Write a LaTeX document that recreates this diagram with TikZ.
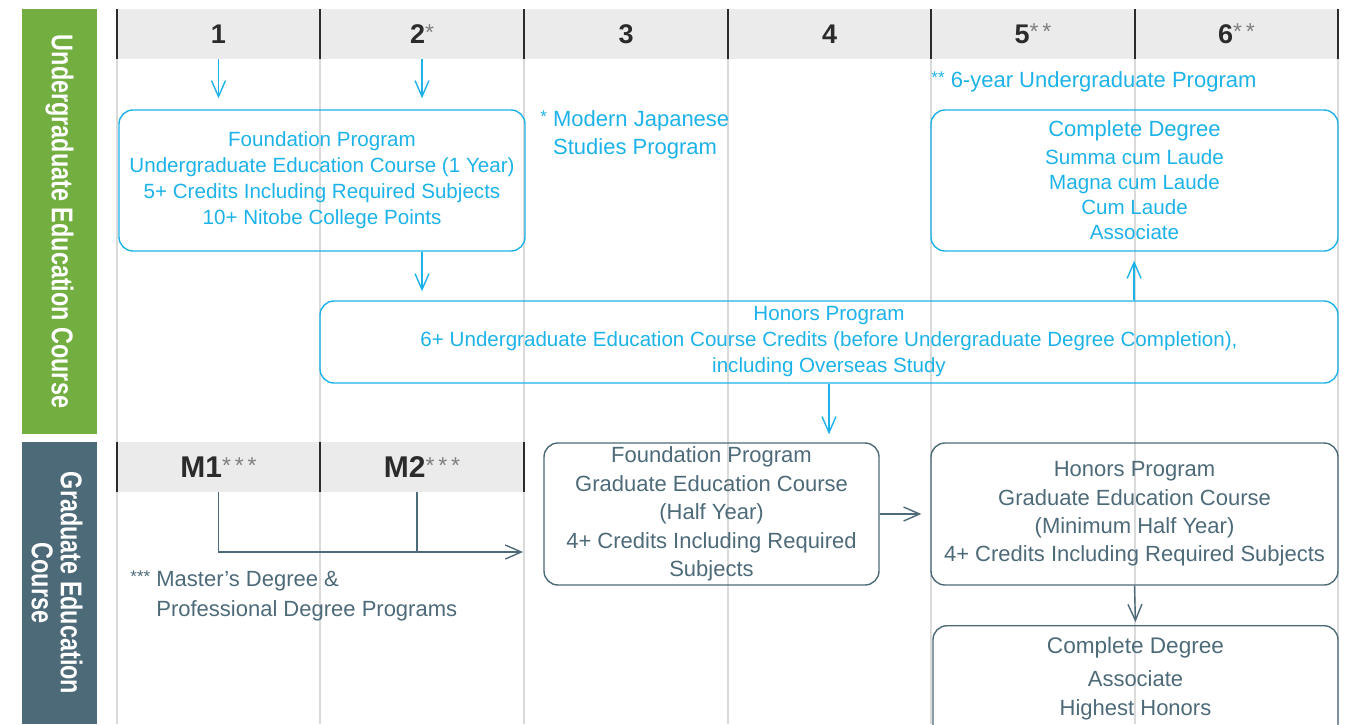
\documentclass[tikz,border=0pt]{standalone}
\usepackage{fontspec}
\setmainfont{Liberation Sans}
\newfontfamily\cond[FakeStretch=0.78]{Liberation Sans}
\usetikzlibrary{arrows.meta,positioning}
\definecolor{cy}{HTML}{1DB2E8}
\definecolor{sl}{HTML}{4D6A79}
\definecolor{gn}{HTML}{73AE41}
\definecolor{hf}{HTML}{EBEBEB}
\definecolor{gl}{HTML}{DADADA}
\definecolor{dk}{HTML}{2B2B2B}
\newcommand{\st}[1]{{\fontsize{8.5}{8.5}\selectfont\raisebox{.45ex}{#1}}}
\newcommand{\gst}[1]{{\color{gray}\mdseries\fontsize{11.5}{11.5}\selectfont\raisebox{.3ex}{#1}}}
\newcommand{\hd}[3]{\node[hcell] (#1) at (#2) {#3};}
\newcommand{\sep}[2]{\draw[dk,line width=1pt] (#1,#2) -- ++(0,50);}
\tikzset{
  hcell/.style={fill=hf, minimum width=102pt, minimum height=25pt, inner sep=0, text=dk, font=\bfseries\fontsize{13.5}{13.5}\selectfont},
  mcell/.style={hcell, font=\bfseries\fontsize{15}{15}\selectfont},
  cbox/.style={draw=cy, text=cy, rounded corners=7pt, line width=.7pt, align=center, inner sep=0, font=\fontsize{10.3}{13}\selectfont},
  sbox/.style={cbox, draw=sl, text=sl, font=\fontsize{11}{14.2}\selectfont},
  carr/.style={cy, line width=.7pt, -{Straight Barb[length=8pt,width=7pt]}},
  sarr/.style={carr, sl},
  side/.style={rotate=-90, text=white, align=center, font=\cond\bfseries\fontsize{15}{14.5}\selectfont},
}
\begin{document}
\begin{tikzpicture}[x=0.5pt,y=-0.5pt]
  \useasboundingbox (0,0) rectangle (1348,724);
  \fill[gn] (22,9) rectangle (97,434); \fill[sl] (22,442) rectangle (97,724);
  \node[side] (ulab) at (59.5,221.5) {Undergraduate Education Course};
  \node[side] (glab) at (57,583) {Graduate Education\\Course};
  \foreach \x in {117,320,524,728,931,1135,1338} \draw[gl,line width=.6pt] (\x,59) -- (\x,724);
  \hd{h1}{218.5,34}{1} \hd{h2}{422,34}{2\gst{*}} \hd{h3}{626,34}{3}
  \hd{h4}{829.5,34}{4} \hd{h5}{1033,34}{5\gst{*\,*}} \hd{h6}{1236.5,34}{6\gst{*\,*}}
  \node[mcell] (m1) at (218.5,467) {M1\gst{*\,*\,*}}; \node[mcell] (m2) at (422,467) {M2\gst{*\,*\,*}};
  \foreach \x in {117,320,524,728,931,1135,1338} \sep{\x}{9};
  \foreach \x in {117,320,524} \sep{\x}{442};

  \node[cbox, minimum width=203pt, minimum height=70.5pt] (ufp) at (322,180.5)
    {Foundation Program\\Undergraduate Education Course (1 Year)\\5+ Credits Including Required Subjects\\10+ Nitobe College Points};
  \node[cbox, minimum width=203.5pt, minimum height=70.5pt, font=\fontsize{10.3}{12.5}\selectfont] (ucd) at (1134.5,180.5)
    {{\fontsize{11}{11}\selectfont Complete Degree}\\[1.5pt]Summa cum Laude\\Magna cum Laude\\Cum Laude\\Associate};
  \node[cbox, minimum width=509pt, minimum height=41pt] (hon) at (829,342)
    {Honors Program\\6+ Undergraduate Education Course Credits (before Undergraduate Degree Completion),\\including Overseas Study};
  \node[sbox, minimum width=167.5pt, minimum height=71pt] (gfp) at (711.5,514)
    {Foundation Program\\Graduate Education Course\\(Half Year)\\4+ Credits Including Required\\Subjects};
  \node[sbox, minimum width=203.5pt, minimum height=71pt] (ghp) at (1134.5,514)
    {Honors Program\\Graduate Education Course\\(Minimum Half Year)\\4+ Credits Including Required Subjects};
  \node[sbox, minimum width=202.5pt, minimum height=60pt, anchor=north] (gcd) at (1135.5,625) {};
  \node[text=sl, align=center, inner sep=0, font=\fontsize{11}{14.5}\selectfont, below=6pt of gcd.north] (gcdt)
    {{\fontsize{11.3}{11.3}\selectfont Complete Degree}\\[2pt]Associate\\Highest Honors};

  \node[text=cy, align=left, inner sep=0, anchor=north west, font=\fontsize{11}{14}\selectfont] (jnote) at (540,110)
    {\st{*} Modern Japanese\\\hphantom{\st{*} }Studies Program};
  \node[text=cy, inner sep=0, anchor=north west, font=\fontsize{11}{14}\selectfont] (ynote) at (931,71)
    {\st{**} 6-year Undergraduate Program};
  \node[text=sl, align=left, inner sep=0, anchor=north west, font=\fontsize{11}{15}\selectfont] (mnote) at (130,570)
    {\st{***} Master's Degree \&\\\hphantom{\st{***} }Professional Degree Programs};

  \draw[carr,shorten >=5.5pt] (h1.south) -- (h1.south |- ufp.north);
  \draw[carr,shorten >=5.5pt] (h2.south) -- (h2.south |- ufp.north);
  \draw[carr,shorten >=4.5pt] (ufp.south -| h2) -- (hon.north -| h2);
  \draw[carr,shorten >=4.5pt] (hon.north -| h6.west) -- (ucd.south -| h6.west);
  \draw[carr,shorten >=4pt] (hon.south) -- (hon.south |- gfp.north);
  \coordinate (mend) at (523,552);
  \draw[sarr] (m1.south) |- (mend);
  \draw[sl,line width=.7pt] ([xshift=-2.5pt]m2.south) -- ([xshift=-2.5pt]m2.south |- mend);
  \draw[sarr,shorten >=4.5pt] (gfp.east) -- (ghp.west);
  \draw[sarr,shorten >=1.5pt] (ghp.south) -- (gcd.north);
\end{tikzpicture}
\end{document}
